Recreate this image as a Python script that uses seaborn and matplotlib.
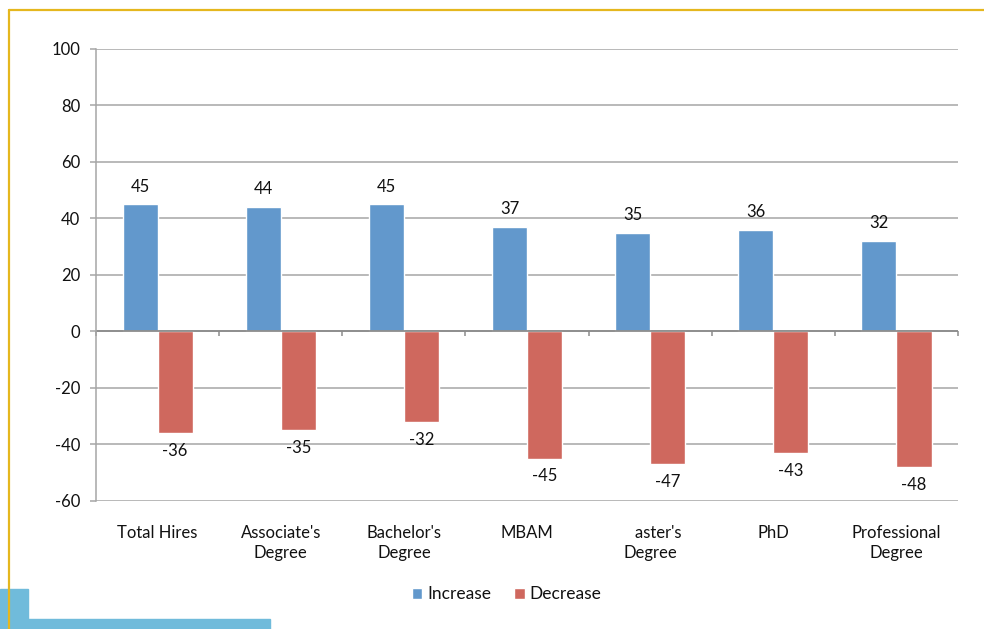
import pandas as pd
import numpy as np
import matplotlib
matplotlib.use("Agg")
import matplotlib.pyplot as plt
import seaborn as sns
from matplotlib.lines import Line2D
from matplotlib.patches import Rectangle

categories = ["Total Hires", "Associate's\nDegree", "Bachelor's\nDegree", "MBAM",
              "    aster's\nDegree", "PhD", "Professional\nDegree"]
increase = [45, 44, 45, 37, 35, 36, 32]
decrease = [-36, -35, -32, -45, -47, -43, -48]
series = ["Increase", "Decrease"]
colors = ["#6298CC", "#CF685E"]

data = pd.DataFrame({
    "category": categories * 2,
    "value": increase + decrease,
    "series": [series[0]] * len(categories) + [series[1]] * len(categories),
})

sns.set_style("white")
plt.rcParams['font.family'] = ['Lato', 'DejaVu Sans']
plt.rcParams['axes.unicode_minus'] = False

fs = 12

fig = plt.figure(figsize=(9.84, 6.29), dpi=100)
ax = fig.add_axes([0.0976, 0.2035, 0.8760, 0.7186])

sns.barplot(data=data, x="category", y="value", hue="series", palette=colors,
            width=0.57, saturation=1, ax=ax, legend=True)

# value labels
for cont in ax.containers:
    ax.bar_label(cont, padding=7, fontsize=fs, color="#111111")

ax.set_ylim(-60, 100)
ax.set_yticks(range(-60, 101, 20))
ax.set_xlim(-0.5, len(categories) - 0.5)
ax.yaxis.grid(True, color="#A6A6A6", linewidth=1.1)
ax.set_axisbelow(True)
ax.set_xlabel("")
ax.set_ylabel("")

for s in ["top", "right", "bottom"]:
    ax.spines[s].set_visible(False)
ax.spines["left"].set_color("#A6A6A6")
ax.spines["left"].set_linewidth(1.1)

ax.tick_params(axis="y", length=4.5, width=1.1, color="#A6A6A6", pad=7,
               labelsize=fs, left=True, labelcolor="#111111")
ax.tick_params(axis="x", length=0, pad=17, labelsize=fs, labelcolor="#111111")
for lab in ax.get_xticklabels():
    lab.set_linespacing(1.3)

# zero line with small ticks at category boundaries
ax.axhline(0, color="#8C8C8C", linewidth=1.3, zorder=1)
bounds = np.arange(len(categories) + 1) - 0.5
ax.vlines(bounds, -1.5, 0, color="#8C8C8C", linewidth=1.1, clip_on=False)

ax.legend(loc="center", bbox_to_anchor=(0.515, 0.055), bbox_transform=fig.transFigure,
          ncol=2, frameon=False, fontsize=12.5, handlelength=0.6, handleheight=0.6,
          handletextpad=0.3, columnspacing=1.3, labelcolor="#111111")

# slide decorations
fig.add_artist(Rectangle((0, 0), 28 / 984, 40 / 629, transform=fig.transFigure,
                         color="#70BBDB", zorder=0))
fig.add_artist(Rectangle((0, 0), 270 / 984, 10 / 629, transform=fig.transFigure,
                         color="#70BBDB", zorder=0))
fig.add_artist(Line2D([8.5 / 984, 1], [1 - 10 / 629, 1 - 10 / 629], transform=fig.transFigure,
                      color="#E5B71E", linewidth=1.6))
fig.add_artist(Line2D([8.5 / 984, 8.5 / 984], [0, 1 - 10 / 629], transform=fig.transFigure,
                      color="#E5B71E", linewidth=1.6))

fig.savefig("out.png", dpi=100)
